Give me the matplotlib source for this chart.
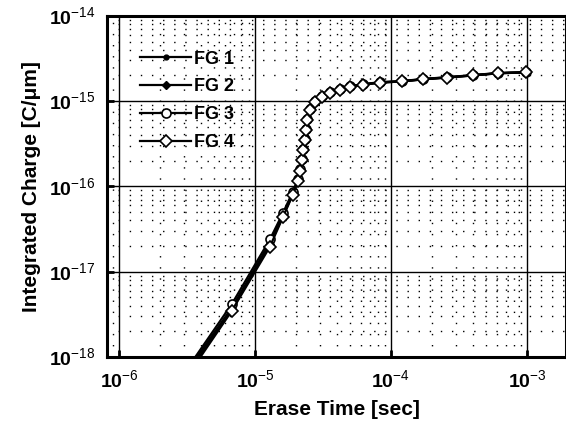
import matplotlib
matplotlib.use('Agg')
import matplotlib.pyplot as plt
from matplotlib.ticker import LogLocator, NullFormatter, FixedLocator

plt.rcParams['font.family'] = ['Liberation Sans', 'DejaVu Sans']
plt.rcParams['mathtext.fontset'] = 'custom'
plt.rcParams['mathtext.rm'] = 'Liberation Sans'
plt.rcParams['mathtext.bf'] = 'Liberation Sans:bold'

# erase time [sec] and integrated charge [C/um]
t_fg = [3.33e-6, 6.78e-6, 1.29e-5, 1.61e-5, 1.90e-5, 2.07e-5, 2.14e-5, 2.22e-5,
        2.25e-5, 2.33e-5, 2.37e-5, 2.41e-5, 2.54e-5, 2.76e-5, 3.11e-5, 3.56e-5,
        4.22e-5, 5.0e-5, 6.23e-5, 8.3e-5, 1.2e-4, 1.72e-4, 2.58e-4, 4.0e-4,
        6.12e-4, 9.85e-4]
q_fg1 = [7.6e-19, 3.8e-18, 2.2e-17, 4.6e-17, 8.4e-17, 1.18e-16, 1.55e-16, 2.05e-16,
         2.7e-16, 3.55e-16, 4.65e-16, 6.1e-16, 8.0e-16, 9.9e-16, 1.14e-15, 1.27e-15,
         1.37e-15, 1.49e-15, 1.57e-15, 1.66e-15, 1.71e-15, 1.81e-15, 1.9e-15, 2.01e-15,
         2.13e-15, 2.18e-15]
q_fg2 = [7.0e-19, 3.6e-18, 2.1e-17, 4.5e-17, 8.2e-17, 1.16e-16, 1.53e-16, 2.03e-16,
         2.68e-16, 3.52e-16, 4.62e-16, 6.05e-16, 7.95e-16, 9.85e-16, 1.13e-15, 1.26e-15,
         1.36e-15, 1.48e-15, 1.56e-15, 1.65e-15, 1.7e-15, 1.8e-15, 1.89e-15, 2.0e-15,
         2.12e-15, 2.17e-15]
q_fg3 = [8.1e-19, 4.2e-18, 2.4e-17, 4.9e-17, 8.7e-17, 1.21e-16, 1.58e-16, 2.08e-16,
         2.72e-16, 3.57e-16, 4.69e-16, 6.14e-16, 8.05e-16, 1.0e-15, 1.15e-15, 1.28e-15,
         1.38e-15, 1.5e-15, 1.58e-15, 1.67e-15, 1.72e-15, 1.82e-15, 1.91e-15, 2.02e-15,
         2.14e-15, 2.19e-15]
q_fg4 = [6.6e-19, 3.5e-18, 1.97e-17, 4.4e-17, 8.0e-17, 1.15e-16, 1.52e-16, 2.02e-16,
         2.66e-16, 3.5e-16, 4.6e-16, 6.0e-16, 7.9e-16, 9.8e-16, 1.13e-15, 1.26e-15,
         1.36e-15, 1.48e-15, 1.56e-15, 1.65e-15, 1.7e-15, 1.8e-15, 1.89e-15, 2.0e-15,
         2.12e-15, 2.18e-15]
labels = ['FG 1', 'FG 2', 'FG 3', 'FG 4']

x_major = [1e-6, 1e-5, 1e-4, 1e-3]
x_labels = [r'$\mathbf{10}^{-6}$', r'$\mathbf{10}^{-5}$', r'$\mathbf{10}^{-4}$', r'$\mathbf{10}^{-3}$']
y_major = [1e-18, 1e-17, 1e-16, 1e-15, 1e-14]
y_labels = [r'$\mathbf{10}^{-18}$', r'$\mathbf{10}^{-17}$', r'$\mathbf{10}^{-16}$',
            r'$\mathbf{10}^{-15}$', r'$\mathbf{10}^{-14}$']

fig = plt.figure(figsize=(5.66, 4.29), dpi=100)
ax = fig.add_axes([0.189, 0.168, 0.811, 0.795])

ax.plot(t_fg, q_fg1, '-', color='k', lw=1.6, marker='o', ms=3.5, mfc='k', mec='k', label=labels[0])
ax.plot(t_fg, q_fg2, '-', color='k', lw=1.6, marker='D', ms=4.5, mfc='k', mec='k', label=labels[1])
ax.plot(t_fg, q_fg3, '-', color='k', lw=1.6, marker='o', ms=6.5, mfc='white', mec='k', mew=1.2, label=labels[2])
ax.plot(t_fg, q_fg4, '-', color='k', lw=1.6, marker='D', ms=6, mfc='white', mec='k', mew=1.2, label=labels[3])

ax.set_xscale('log')
ax.set_yscale('log')
ax.set_xlim(10 ** -6.088, 10 ** -2.713)
ax.set_ylim(1e-18, 1e-14)

ax.xaxis.set_major_locator(FixedLocator(x_major))
ax.set_xticklabels(x_labels)
ax.yaxis.set_major_locator(FixedLocator(y_major))
ax.set_yticklabels(y_labels)
ax.xaxis.set_minor_locator(LogLocator(base=10, subs=range(2, 10)))
ax.yaxis.set_minor_locator(LogLocator(base=10, subs=range(2, 10)))
ax.xaxis.set_minor_formatter(NullFormatter())
ax.yaxis.set_minor_formatter(NullFormatter())

ax.tick_params(which='major', direction='in', length=5, width=2, labelsize=14, pad=9)
ax.tick_params(which='minor', direction='in', length=0)
ax.tick_params(axis='y', which='major', pad=8)

ax.grid(which='major', color='k', lw=1.0, ls='-')
ax.grid(which='minor', color='k', lw=1.0, ls=(0, (1, 7)))

for s in ax.spines.values():
    s.set_linewidth(2.2)

ax.set_xlabel('Erase Time [sec]', fontsize=15, fontweight='bold', labelpad=6)
ax.set_ylabel('Integrated Charge [C/\u03bcm]', fontsize=15, fontweight='bold', labelpad=6)

leg = ax.legend(loc='upper left', bbox_to_anchor=(0.073, 0.898), frameon=False,
                handlelength=2.8, handletextpad=0.15, labelspacing=0.6,
                borderaxespad=0, borderpad=0,
                prop={'size': 13, 'weight': 'bold'})

fig.savefig('out.png', dpi=100)
